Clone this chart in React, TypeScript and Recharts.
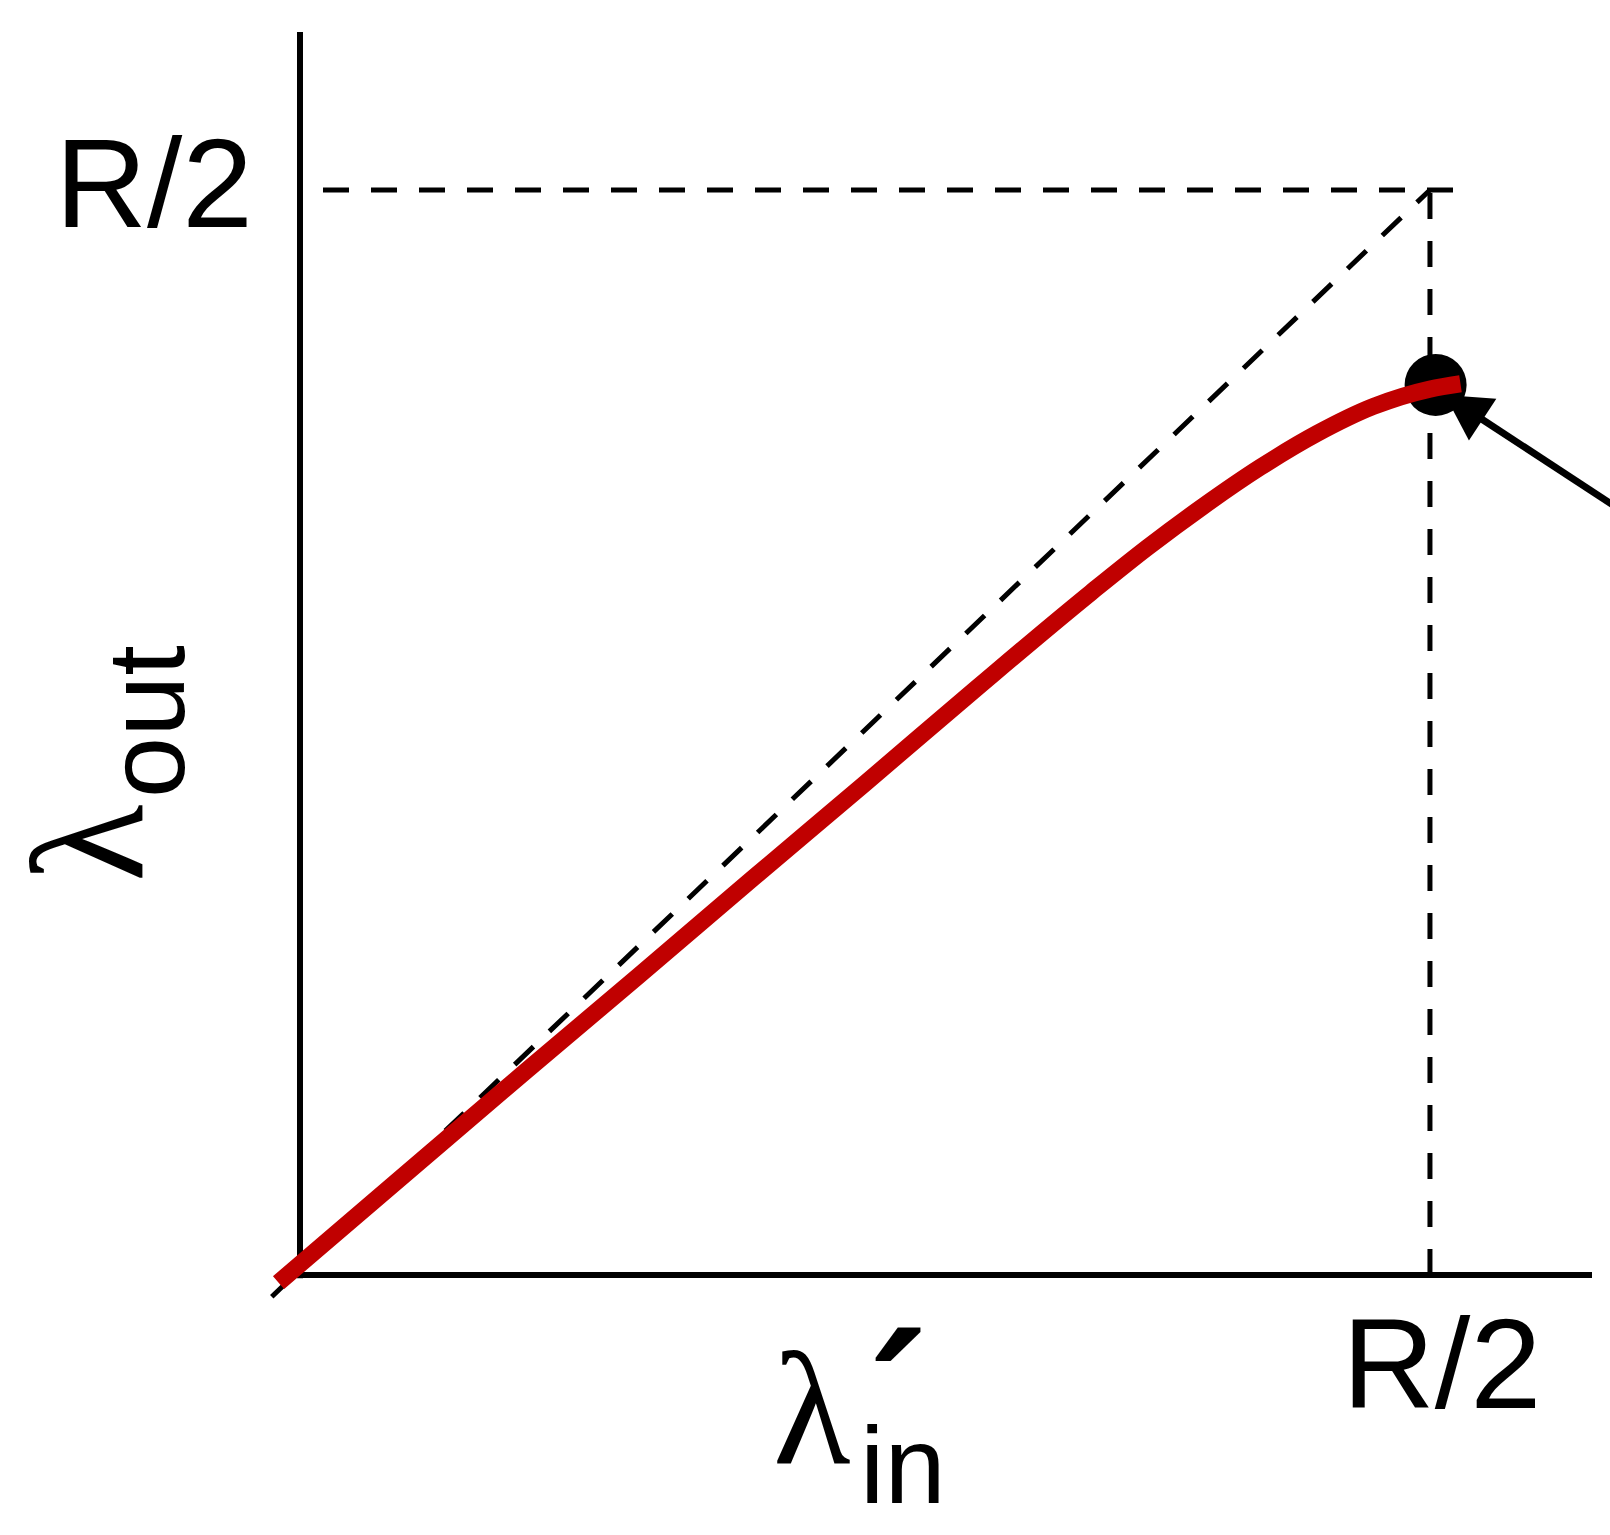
import React from 'react';
import { ComposedChart, Line, Scatter, XAxis, YAxis, ReferenceLine } from 'recharts';

// rates in units of R/2
const inputRate = [-0.019, 0.1, 0.2, 0.3, 0.4, 0.5, 0.6, 0.7, 0.75, 0.8, 0.85, 0.9, 0.95, 1.0, 1.027];
const outputRate = [-0.007, 0.099, 0.188, 0.276, 0.365, 0.453, 0.542, 0.629, 0.6705, 0.709, 0.7445, 0.7755, 0.8005, 0.8165, 0.8214];
const peakIn = [1.005];
const peakOut = [0.8203];
const tickValues = [1];
const tickLabels = ['R/2'];

const curve = inputRate.map((x, i) => ({ x, y: outputRate[i] }));
const peak = peakIn.map((x, i) => ({ x, y: peakOut[i] }));

const SANS = '"Liberation Sans", Arial, sans-serif';
const SERIF = '"Liberation Serif", "Times New Roman", serif';

const XTick = ({ x, index }: any) => (
  <text x={x + 12} y={1408} textAnchor="middle" fontFamily={SANS} fontSize={128} fill="#000">
    {tickLabels[index]}
  </text>
);

const YTick = ({ y, index }: any) => (
  <text x={253} y={y + 37} textAnchor="end" fontFamily={SANS} fontSize={127} fill="#000">
    {tickLabels[index]}
  </text>
);

const InLabel = () => (
  <g fill="#000">
    <text x={773} y={1463} fontFamily={SERIF} fontSize={160}>λ</text>
    <text x={860} y={1503} fontFamily={SANS} fontSize={110}>in</text>
    <text transform="translate(868 1486) scale(1 1.2)" fontFamily={SANS} fontWeight="bold" fontSize={180}>´</text>
  </g>
);

const OutLabel = () => (
  <g fill="#000" transform="rotate(-90 142 880)">
    <text x={140} y={880} fontFamily={SERIF} fontSize={160}>λ</text>
    <text x={224} y={922} fontFamily={SANS} fontSize={110}>out</text>
  </g>
);

const ArrowShape = (props: any) => {
  const { x1, y1, x2, y2 } = props;
  const dx = x1 - x2;
  const dy = y1 - y2;
  const len = Math.sqrt(dx * dx + dy * dy) || 1;
  const ux = dx / len;
  const uy = dy / len;
  const head = 45;
  const half = 25;
  const bx = x2 + ux * head;
  const by = y2 + uy * head;
  return (
    <g>
      <line x1={x1} y1={y1} x2={bx - ux * 4} y2={by - uy * 4} stroke="#000" strokeWidth={7} />
      <polygon
        points={`${x2},${y2} ${bx - uy * half},${by + ux * half} ${bx + uy * half},${by - ux * half}`}
        fill="#000"
      />
    </g>
  );
};

const dash = '26 22';

export default function App() {
  return (
    <div>
      <style>{'body{margin:0}'}</style>
      <ComposedChart
        width={1610}
        height={1535}
        margin={{ top: 32, right: 18, bottom: 186.6, left: 194.8 }}
      >
        <XAxis
          type="number"
          dataKey="x"
          domain={[-0.04, 1.1434]}
          ticks={tickValues}
          axisLine={false}
          tickLine={false}
          tick={<XTick />}
          height={30}
          label={<InLabel />}
        />
        <YAxis
          type="number"
          dataKey="y"
          domain={[-0.04, 1.1456]}
          ticks={tickValues}
          axisLine={false}
          tickLine={false}
          tick={<YTick />}
          width={60}
          label={<OutLabel />}
        />
        {/* axes */}
        <ReferenceLine segment={[{ x: 0, y: -0.003 }, { x: 0, y: 1.1456 }]} stroke="#000" strokeWidth={6} ifOverflow="visible" />
        <ReferenceLine segment={[{ x: -0.003, y: 0 }, { x: 1.1434, y: 0 }]} stroke="#000" strokeWidth={6} ifOverflow="visible" />
        {/* guides */}
        <ReferenceLine segment={[{ x: 0, y: 1 }, { x: 1.024, y: 1 }]} stroke="#000" strokeWidth={5} strokeDasharray={dash} strokeDashoffset={25} ifOverflow="visible" />
        <ReferenceLine segment={[{ x: 1, y: 0 }, { x: 1, y: 1 }]} stroke="#000" strokeWidth={5} strokeDasharray={dash} ifOverflow="visible" />
        <ReferenceLine segment={[{ x: -0.025, y: -0.02 }, { x: 1, y: 1 }]} stroke="#000" strokeWidth={5} strokeDasharray={dash} ifOverflow="visible" />
        <ReferenceLine
          segment={[{ x: 1.168, y: 0.7055 }, { x: 1.0133, y: 0.811 }]}
          ifOverflow="visible"
          shape={<ArrowShape />}
        />
        <Scatter data={peak} fill="#000" isAnimationActive={false} zIndex={100}
          shape={(p: any) => <circle cx={p.cx} cy={p.cy} r={31} fill="#000" />} />
        <Line
          data={curve}
          dataKey="y"
          type="monotone"
          stroke="#c00000"
          strokeWidth={17}
          dot={false}
          activeDot={false}
          isAnimationActive={false}
          zIndex={700}
        />
      </ComposedChart>
    </div>
  );
}
